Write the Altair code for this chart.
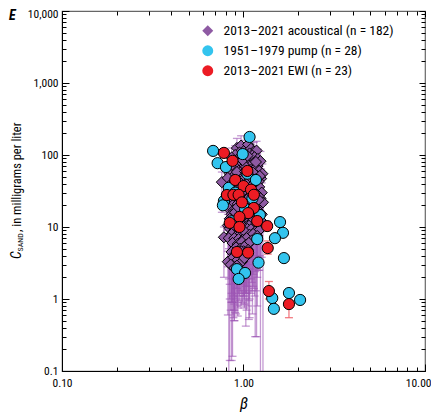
import altair as alt
import pandas as pd

FONT = "Roboto Condensed, Roboto, sans-serif"

series_names = ["2013–2021 acoustical (n = 182)", "1951–1979 pump (n = 28)", "2013–2021 EWI (n = 23)"]
fill_colors = ["#8e5aa3", "#33c4ee", "#ec1c24"]
shapes = ["diamond", "circle", "circle"]

# ---- 2013-2021 acoustical (beta, C, lower / upper error) by concentration band ----
ac_beta_1 = [0.92, 0.97, 1.02, 1.06, 1.10, 1.14, 0.95, 1.00, 1.08, 1.18, 0.90, 1.12]
ac_c_1 = [125, 135, 118, 140, 122, 112, 108, 102, 105, 115, 100, 98]
ac_hi_1 = [170, 185, 160, 190, 165, 150, 145, 140, 142, 155, 135, 132]
ac_lo_1 = [60, 70, 55, 72, 58, 50, 45, 40, 48, 52, 40, 44]

ac_beta_2 = [0.86, 0.93, 0.98, 1.04, 1.09, 1.15, 1.20, 0.88, 0.95, 1.01, 1.07, 1.13, 1.19, 1.24, 0.91, 0.97, 1.03, 1.10, 1.16, 1.22, 0.85, 0.99, 1.05, 1.17, 0.94]
ac_c_2 = [92, 88, 95, 90, 85, 93, 88, 78, 75, 80, 72, 77, 70, 82, 66, 63, 68, 62, 65, 60, 70, 85, 98, 80, 60]
ac_hi_2 = [125, 118, 130, 122, 115, 128, 120, 105, 100, 110, 98, 104, 95, 112, 90, 86, 92, 85, 88, 82, 95, 115, 135, 108, 82]
ac_lo_2 = [40, 35, 45, 0.7, 38, 42, 40, 30, 28, 32, 0.52, 30, 26, 0.05, 25, 24, 27, 22, 25, 20, 26, 36, 44, 30, 22]

ac_beta_3 = [0.84, 0.89, 0.96, 1.00, 1.06, 1.11, 1.18, 1.25, 0.87, 0.93, 0.99, 1.04, 1.09, 1.15, 1.21, 0.76, 0.82, 1.27, 0.92, 1.02, 1.13, 1.23, 0.97, 1.08, 1.17]
ac_c_3 = [55, 52, 57, 50, 54, 48, 52, 47, 44, 42, 45, 41, 44, 40, 43, 42, 48, 55, 58, 59, 57, 51, 40, 51, 46]
ac_hi_3 = [75, 72, 78, 68, 74, 66, 72, 64, 60, 58, 62, 56, 60, 55, 59, 58, 66, 75, 80, 82, 78, 70, 55, 70, 63]
ac_lo_3 = [20, 0.5, 22, 18, 21, 17, 0.3, 16, 15, 0.58, 16, 14, 15, 13, 15, 16, 18, 20, 22, 23, 21, 18, 13, 19, 16]

ac_beta_4 = [0.83, 0.88, 0.94, 1.00, 1.05, 1.11, 1.16, 1.22, 1.26, 0.86, 0.91, 0.97, 1.03, 1.08, 1.14, 1.19, 1.24, 0.84, 0.89, 0.95,
             1.01, 1.06, 1.12, 1.18, 1.28, 0.87, 0.93, 0.99, 1.04, 1.10, 1.15, 1.21, 0.81, 0.96, 1.13]
ac_c_4 = [37, 35, 38, 36, 33, 37, 34, 36, 30, 30, 28, 31, 29, 27, 30, 28, 25, 25, 23, 24,
          22, 25, 23, 21, 22, 20, 21, 20, 20, 21, 20, 24, 28, 35, 39]
ac_hi_4 = [50, 48, 52, 49, 45, 50, 46, 49, 41, 41, 38, 42, 40, 37, 41, 38, 34, 34, 32, 33,
           30, 34, 32, 29, 30, 28, 29, 28, 28, 29, 28, 33, 38, 48, 53]
ac_lo_4 = [0.05, 12, 13, 12, 11, 13, 0.3, 12, 10, 0.14, 0.62, 10, 0.42, 0.55, 10, 0.8, 8.5, 0.14, 0.5, 8,
           0.75, 0.8, 0.62, 7, 0.05, 0.16, 7, 6.5, 6.8, 7, 6.5, 8, 9, 12, 13]

ac_beta_5 = [0.83, 0.88, 0.94, 1.00, 1.05, 1.11, 1.17, 1.23, 0.86, 0.91, 0.97, 1.03, 1.08, 1.14, 1.20, 1.26, 0.84, 0.89, 0.95, 1.01,
             1.06, 1.12, 1.18, 1.24, 0.87, 0.92, 0.98, 1.04, 1.09, 1.15, 1.21, 0.82, 0.90, 0.96, 1.07, 1.13, 1.19, 1.00, 0.93, 1.10]
ac_c_5 = [18, 17, 18.5, 17, 18, 16.5, 17.5, 16, 15, 14.5, 15.5, 14, 15, 14.5, 13.5, 15, 13, 12.5, 12, 12.5,
          11.5, 12, 11, 12.5, 11, 10.5, 11, 10.2, 10.8, 10, 10.5, 10.5, 16, 13.5, 16.5, 13, 15, 10, 19, 19]
ac_hi_5 = [25, 24, 26, 24, 25, 23, 24, 22, 21, 20, 21, 19, 21, 20, 19, 21, 18, 17, 17, 17,
           16, 17, 15, 17, 15, 15, 15, 14, 15, 14, 15, 15, 22, 19, 23, 18, 21, 14, 26, 26]
ac_lo_5 = [5, 1.1, 1.2, 4.5, 1.5, 4, 1.3, 4, 0.9, 1.0, 3.8, 1.2, 3.6, 1.4, 3.5, 3.8, 1.0, 3, 0.95, 1.1,
           3, 1.3, 2.8, 3.2, 0.9, 1.4, 2.7, 1.2, 2.6, 1.1, 2.5, 2.8, 4, 1.6, 4.2, 1.5, 3.8, 2.2, 1.7, 1.9]

ac_beta_6 = [0.84, 0.89, 0.95, 1.00, 1.05, 1.10, 1.16, 1.22, 0.86, 0.92, 0.97, 1.02, 1.08, 1.13, 1.19,
             0.78, 0.83, 0.89, 0.94, 0.99, 1.04, 1.11, 0.87, 0.93, 0.98, 1.03, 1.07, 0.91, 0.96, 1.01]
ac_c_6 = [9.5, 9, 9.2, 8.8, 9.4, 9.3, 8.6, 9, 8, 7.6, 8.1, 8.5, 7.8, 8, 7.5,
          7.2, 7.0, 7.0, 6.8, 6.6, 7.0, 6.5, 6.0, 5.8, 6.2, 5.6, 6.0, 5.2, 5.0, 5.3]
ac_hi_6 = [13, 12.5, 13, 12, 13, 13, 12, 12.5, 11, 10.5, 11, 12, 11, 11, 10.5,
           10, 9.8, 9.8, 9.5, 9.2, 9.8, 9, 8.5, 8.2, 8.7, 7.8, 8.4, 7.3, 7, 7.4]
ac_lo_6 = [1.6, 0.85, 2.5, 1.1, 2.6, 1.2, 2.4, 2.5, 0.9, 2.1, 0.8, 2.3, 1.0, 2.2, 2.0,
           2.0, 1.9, 0.7, 1.8, 0.9, 1.9, 1.7, 1.6, 0.75, 1.7, 1.5, 0.95, 1.4, 1.3, 0.85]

ac_beta_7 = [0.82, 0.86, 0.90, 0.95, 1.00, 0.88, 0.93, 0.98, 1.03, 0.85, 0.92, 1.06, 0.97, 0.89, 1.01]
ac_c_7 = [3.3, 4.5, 4.2, 4.0, 4.6, 3.8, 3.5, 3.3, 4.3, 3.0, 2.9, 4.8, 4.6, 2.7, 3.7]
ac_hi_7 = [4.6, 6.3, 5.9, 5.6, 6.4, 5.3, 4.9, 4.6, 6.0, 4.2, 4.1, 6.7, 6.4, 3.8, 5.2]
ac_lo_7 = [0.6, 1.2, 0.65, 1.1, 1.3, 0.55, 0.9, 0.85, 1.2, 0.7, 0.8, 1.3, 1.2, 0.7, 1.0]

# ---- 1951-1979 pump ----
pump_beta = [0.68, 0.72, 0.80, 1.08, 0.99, 0.83, 0.78, 0.77, 1.23, 1.59, 1.65, 1.49, 1.19, 1.67,
             1.21, 0.92, 1.02, 0.94, 1.44, 1.78, 2.05, 1.47, 1.05, 0.90, 1.12, 1.02, 1.17, 0.86]
pump_c = [114, 77, 68, 178, 103, 35, 23, 20, 14.7, 11.7, 8.3, 7.0, 6.8, 3.7,
          3.2, 2.6, 2.3, 1.9, 1.03, 1.21, 0.97, 0.73, 55, 30, 25, 18, 45, 12]

# ---- 2013-2021 EWI ----
ewi_beta = [0.78, 0.87, 1.05, 0.90, 1.00, 1.10, 0.81, 0.88, 0.94, 1.14, 0.98, 1.14, 1.06, 0.95, 0.84, 1.19,
            1.35, 0.95, 0.92, 1.06, 1.36, 1.38, 1.78]
ewi_c = [107, 83, 60, 45, 37, 33, 27.8, 28, 28, 28, 22, 18.4, 15.6, 13.8, 11.4, 12.1,
         10.3, 10, 4.5, 4.4, 5.1, 1.29, 0.85]
ewi_lo = [92, 72, 52, 39, 32, 28, 24, 24, 24, 24, 19, 16, 13.5, 12, 9.8, 10.5,
          8.9, 8.6, 3.9, 3.8, 4.2, 1.0, 0.55]
ewi_hi = [122, 95, 69, 52, 43, 38, 32, 32, 32.5, 33, 25, 21, 18, 16, 13, 14,
          12, 11.6, 5.2, 5.1, 6.4, 1.75, 1.1]

x_major = [0.1, 1, 10]
x_minor = [0.2, 0.3, 0.4, 0.5, 0.6, 0.7, 0.8, 0.9, 2, 3, 4, 5, 6, 7, 8, 9]
y_major = [0.1, 1, 10, 100, 1000, 10000]
y_minor = [m * d for d in [0.1, 1, 10, 100, 1000] for m in [2, 3, 4, 5, 6, 7, 8, 9]]

ac_beta = ac_beta_1 + ac_beta_2 + ac_beta_3 + ac_beta_4 + ac_beta_5 + ac_beta_6 + ac_beta_7
ac_c = ac_c_1 + ac_c_2 + ac_c_3 + ac_c_4 + ac_c_5 + ac_c_6 + ac_c_7
ac_lo = ac_lo_1 + ac_lo_2 + ac_lo_3 + ac_lo_4 + ac_lo_5 + ac_lo_6 + ac_lo_7
ac_hi = ac_hi_1 + ac_hi_2 + ac_hi_3 + ac_hi_4 + ac_hi_5 + ac_hi_6 + ac_hi_7

df_ac = pd.DataFrame({"beta": ac_beta, "c": ac_c, "lo": ac_lo, "hi": ac_hi})
df_ewi = pd.DataFrame({"beta": ewi_beta, "c": ewi_c, "lo": ewi_lo, "hi": ewi_hi})
df_pts = pd.concat([
    pd.DataFrame({"beta": ac_beta, "c": ac_c, "series": series_names[0]}),
    pd.DataFrame({"beta": pump_beta, "c": pump_c, "series": series_names[1]}),
    pd.DataFrame({"beta": ewi_beta, "c": ewi_c, "series": series_names[2]}),
], ignore_index=True)
df_pts["i"] = range(len(df_pts))

xs = alt.Scale(type="log", domain=[0.1, 10], nice=False)
ys = alt.Scale(type="log", domain=[0.1, 10000], nice=False)

def X(field, axis=None):
    return alt.X(field, type="quantitative", scale=xs, axis=axis)

def Y(field, axis=None):
    return alt.Y(field, type="quantitative", scale=ys, axis=axis)

PURPLE_BAR = "#9c55b4"
RED_BAR = "#f0646c"

def err_layers(df, color, opacity):
    rule = alt.Chart(df).mark_rule(color=color, opacity=opacity, strokeWidth=1.3, clip=True).encode(
        x=X("beta"), y=Y("lo"), y2="hi")
    lo = alt.Chart(df).mark_tick(color=color, opacity=opacity, orient="horizontal", size=8, thickness=1.3, clip=True).encode(
        x=X("beta"), y=Y("lo"))
    hi = alt.Chart(df).mark_tick(color=color, opacity=opacity, orient="horizontal", size=8, thickness=1.3, clip=True).encode(
        x=X("beta"), y=Y("hi"))
    return [rule, lo, hi]

leg = alt.Legend(title=None, orient="none", legendX=139, legendY=13, labelFont=FONT, labelFontSize=13.5,
                 labelColor="black", labelLimit=0, symbolSize=120, symbolStrokeColor="black", symbolStrokeWidth=1,
                 rowPadding=4, labelOffset=9, padding=0)

points = alt.Chart(df_pts).mark_point(filled=True, size=125, stroke="black", strokeWidth=1, opacity=1, clip=True).encode(
    x=X("beta", alt.Axis(values=x_major, format=".2f", ticks=False, domain=True, domainColor="black", grid=False,
                         labelFont=FONT, labelFontSize=11.5, labelColor="black", labelFlush=False, labelPadding=6,
                         labelAlign={"condition": {"test": "datum.value >= 10", "value": "right"}, "value": "center"},
                         labelOffset={"condition": {"test": "datum.value >= 10", "value": 6}, "value": 0},
                         title="β", titleFont=FONT, titleFontStyle="italic", titleFontWeight="normal",
                         titleFontSize=16, titleColor="black", titlePadding=7)),
    y=Y("c", alt.Axis(values=y_major, format=",", ticks=False, domain=True, domainColor="black", grid=False,
                      labelFont=FONT, labelFontSize=11.5, labelColor="black", labelFlush=False, labelPadding=4,
                      labelOffset={"condition": {"test": "datum.value >= 10000", "value": 3}, "value": 0},
                      title=None)),
    fill=alt.Fill("series:N", scale=alt.Scale(domain=series_names, range=fill_colors), legend=leg),
    shape=alt.Shape("series:N", scale=alt.Scale(domain=series_names, range=shapes), legend=leg),
    order=alt.Order("i:Q"),
)

def tick_layer(xorient, yorient, xvals, yvals, size):
    ax = alt.Axis(orient=xorient, values=xvals, labels=False, domain=False, grid=False, ticks=True,
                  tickSize=size, offset=-size, tickColor="black", title=None)
    ay = alt.Axis(orient=yorient, values=yvals, labels=False, domain=False, grid=False, ticks=True,
                  tickSize=size, offset=-size, tickColor="black", title=None)
    return alt.Chart(df_pts).mark_point(opacity=0).encode(x=X("beta", ax), y=Y("c", ay))

t1 = tick_layer("bottom", "left", x_minor, y_minor, 4)
t2 = tick_layer("bottom", "left", x_major, y_major, 7)
t3 = tick_layer("top", "right", x_minor, y_minor, 4)
t4 = tick_layer("top", "right", x_major, y_major, 6)

panel_label = alt.Chart(pd.DataFrame({"t": ["E"]})).mark_text(
    font=FONT, fontSize=14, fontStyle="italic", fontWeight="bold", align="left", baseline="top", color="black"
).encode(text="t:N", x=alt.value(-53), y=alt.value(-2))

yt_c = alt.Chart(pd.DataFrame({"t": ["C"]})).mark_text(
    font=FONT, fontSize=14, fontStyle="italic", angle=270, align="left", baseline="middle", color="black"
).encode(text="t:N", x=alt.value(-45), y=alt.value(248))
yt_sub = alt.Chart(pd.DataFrame({"t": ["SAND"]})).mark_text(
    font=FONT, fontSize=8, angle=270, align="left", baseline="middle", color="black"
).encode(text="t:N", x=alt.value(-41), y=alt.value(240.5))
yt_rest = alt.Chart(pd.DataFrame({"t": [", in milligrams per liter"]})).mark_text(
    font=FONT, fontSize=12.5, angle=270, align="left", baseline="middle", color="black"
).encode(text="t:N", x=alt.value(-45), y=alt.value(221))

layers = err_layers(df_ac, PURPLE_BAR, 0.6) + err_layers(df_ewi, RED_BAR, 0.85) + [
    points, t1, t2, t3, t4, panel_label, yt_c, yt_sub, yt_rest]

chart = alt.layer(*layers).resolve_axis(x="independent", y="independent").properties(
    width=363, height=360,
    autosize=alt.AutoSizeParams(type="none"),
    padding={"left": 54, "top": 3, "right": 6, "bottom": 46},
).configure_view(stroke="#666666", strokeWidth=1.2)

chart.save("out.html", embed_options={"renderer": "svg", "actions": False})
